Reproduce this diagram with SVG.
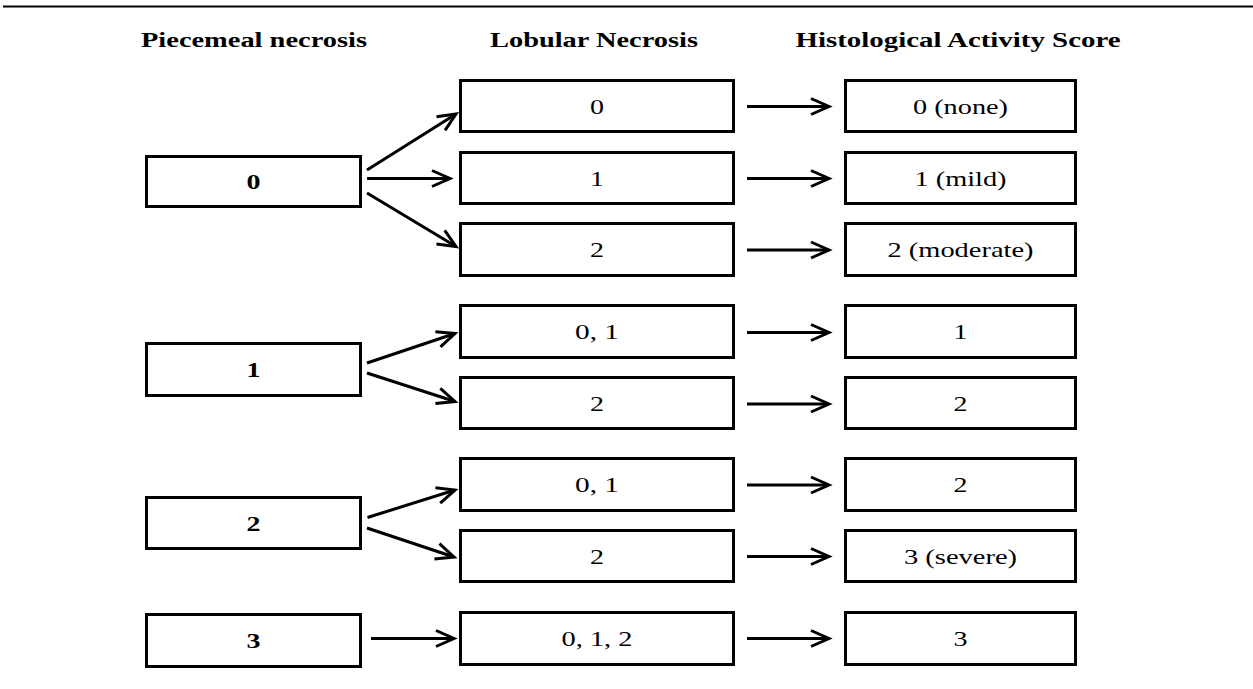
<svg xmlns="http://www.w3.org/2000/svg" width="1253" height="689" viewBox="0 0 1253 689">
<style>
.box{fill:#fff;stroke:#000;stroke-width:3}
.hd{font-family:"Liberation Serif","Times New Roman",serif;font-weight:bold;font-size:22px;text-anchor:middle;fill:#000}
.t{font-family:"Liberation Serif","Times New Roman",serif;font-size:22px;text-anchor:middle;fill:#000}
.tb{font-family:"Liberation Serif","Times New Roman",serif;font-weight:bold;font-size:22px;text-anchor:middle;fill:#000}
.c{fill:none;stroke:#000;stroke-width:3;marker-end:url(#ah)}
</style>
<defs>
<marker id="ah" markerUnits="userSpaceOnUse" markerWidth="30" markerHeight="30" viewBox="-25 -15 30 30" refX="0" refY="0" orient="auto">
<path d="M -18 -8 L 0 0 L -18 8" fill="none" stroke="#000" stroke-width="3"/>
</marker>
</defs>
<rect width="1253" height="689" fill="#fff"/>
<line x1="3" y1="6.5" x2="1253" y2="6.5" stroke="#000" stroke-width="2"/>
<g id="headers">
<text class="hd" x="254" y="47" textLength="226" lengthAdjust="spacingAndGlyphs">Piecemeal necrosis</text>
<text class="hd" x="594" y="47" textLength="208" lengthAdjust="spacingAndGlyphs">Lobular Necrosis</text>
<text class="hd" x="958" y="47" textLength="325" lengthAdjust="spacingAndGlyphs">Histological Activity Score</text>
</g>
<g id="p0"><rect class="box" x="146.5" y="156.5" width="214" height="50"/><text class="tb" x="253.5" y="189" textLength="14" lengthAdjust="spacingAndGlyphs">0</text></g>
<g id="p1"><rect class="box" x="146.5" y="343.5" width="214" height="52"/><text class="tb" x="253.5" y="377" textLength="14" lengthAdjust="spacingAndGlyphs">1</text></g>
<g id="p2"><rect class="box" x="146.5" y="497.5" width="214" height="51"/><text class="tb" x="253.5" y="530.5" textLength="14" lengthAdjust="spacingAndGlyphs">2</text></g>
<g id="p3"><rect class="box" x="146.5" y="614.5" width="214" height="52"/><text class="tb" x="253.5" y="648" textLength="14" lengthAdjust="spacingAndGlyphs">3</text></g>

<g id="l0"><rect class="box" x="460.5" y="80.5" width="273" height="51"/><text class="t" x="597" y="113.5" textLength="14" lengthAdjust="spacingAndGlyphs">0</text></g>
<g id="l1"><rect class="box" x="460.5" y="152.5" width="273" height="51"/><text class="t" x="597" y="185.5" textLength="14" lengthAdjust="spacingAndGlyphs">1</text></g>
<g id="l2"><rect class="box" x="460.5" y="223.5" width="273" height="52"/><text class="t" x="597" y="257" textLength="14" lengthAdjust="spacingAndGlyphs">2</text></g>
<g id="l3"><rect class="box" x="460.5" y="305.5" width="273" height="52"/><text class="t" x="597" y="338.5" textLength="44" lengthAdjust="spacingAndGlyphs">0, 1</text></g>
<g id="l4"><rect class="box" x="460.5" y="377.5" width="273" height="51"/><text class="t" x="597" y="410.5" textLength="14" lengthAdjust="spacingAndGlyphs">2</text></g>
<g id="l5"><rect class="box" x="460.5" y="458.5" width="273" height="52"/><text class="t" x="597" y="492" textLength="44" lengthAdjust="spacingAndGlyphs">0, 1</text></g>
<g id="l6"><rect class="box" x="460.5" y="530.5" width="273" height="51"/><text class="t" x="597" y="563.5" textLength="14" lengthAdjust="spacingAndGlyphs">2</text></g>
<g id="l7"><rect class="box" x="460.5" y="612.5" width="273" height="52"/><text class="t" x="597" y="646" textLength="71" lengthAdjust="spacingAndGlyphs">0, 1, 2</text></g>

<g id="h0"><rect class="box" x="845.5" y="80.5" width="230" height="51"/><text class="t" x="960.5" y="113.5" textLength="95" lengthAdjust="spacingAndGlyphs">0 (none)</text></g>
<g id="h1"><rect class="box" x="845.5" y="152.5" width="230" height="51"/><text class="t" x="960.5" y="185.5" textLength="92" lengthAdjust="spacingAndGlyphs">1 (mild)</text></g>
<g id="h2"><rect class="box" x="845.5" y="223.5" width="230" height="52"/><text class="t" x="960.5" y="257" textLength="146" lengthAdjust="spacingAndGlyphs">2 (moderate)</text></g>
<g id="h3"><rect class="box" x="845.5" y="305.5" width="230" height="52"/><text class="t" x="960.5" y="338.5" textLength="14" lengthAdjust="spacingAndGlyphs">1</text></g>
<g id="h4"><rect class="box" x="845.5" y="377.5" width="230" height="51"/><text class="t" x="960.5" y="410.5" textLength="14" lengthAdjust="spacingAndGlyphs">2</text></g>
<g id="h5"><rect class="box" x="845.5" y="458.5" width="230" height="52"/><text class="t" x="960.5" y="492" textLength="14" lengthAdjust="spacingAndGlyphs">2</text></g>
<g id="h6"><rect class="box" x="845.5" y="530.5" width="230" height="51"/><text class="t" x="960.5" y="563.5" textLength="113" lengthAdjust="spacingAndGlyphs">3 (severe)</text></g>
<g id="h7"><rect class="box" x="845.5" y="612.5" width="230" height="52"/><text class="t" x="960.5" y="646" textLength="14" lengthAdjust="spacingAndGlyphs">3</text></g>

<g id="connectors">
<line class="c" x1="367" y1="170" x2="456" y2="114"/>
<line class="c" x1="367" y1="178.5" x2="450" y2="178.5"/>
<line class="c" x1="367" y1="193" x2="456" y2="246.5"/>
<line class="c" x1="367" y1="363" x2="455" y2="333.5"/>
<line class="c" x1="367" y1="373" x2="455" y2="401.5"/>
<line class="c" x1="367.5" y1="517.5" x2="455" y2="490"/>
<line class="c" x1="367" y1="528" x2="454" y2="557"/>
<line class="c" x1="371" y1="638.5" x2="454" y2="638.5"/>
<line class="c" x1="747" y1="106.5" x2="829" y2="106.5"/>
<line class="c" x1="747" y1="178.5" x2="829" y2="178.5"/>
<line class="c" x1="747" y1="250" x2="829" y2="250"/>
<line class="c" x1="747" y1="332.5" x2="829" y2="332.5"/>
<line class="c" x1="747" y1="404" x2="829" y2="404"/>
<line class="c" x1="747" y1="485" x2="829" y2="485"/>
<line class="c" x1="747" y1="556.5" x2="829" y2="556.5"/>
<line class="c" x1="747" y1="638.5" x2="829" y2="638.5"/>
</g>
</svg>
